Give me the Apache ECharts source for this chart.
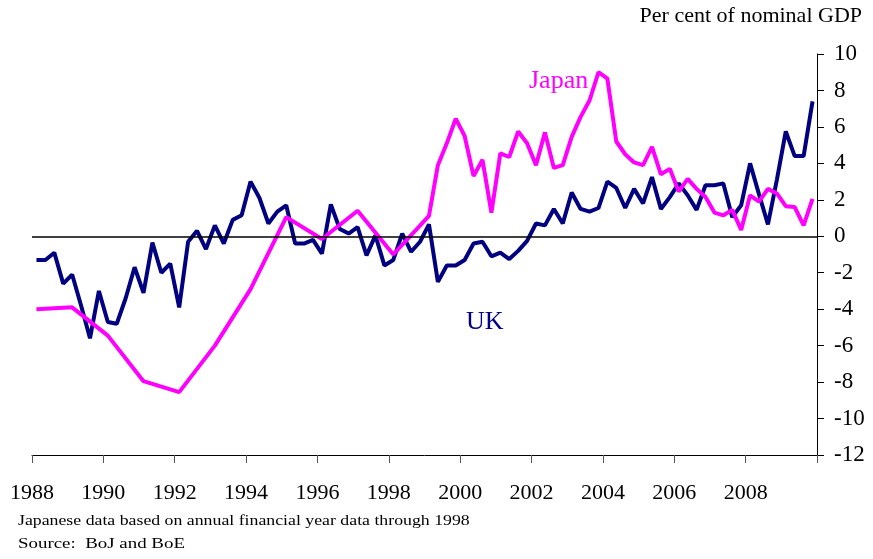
<!DOCTYPE html>
<html>
<head>
<meta charset="utf-8">
<script src="https://cdn.jsdelivr.net/npm/echarts@6/dist/echarts.min.js"></script>
<style>
  html, body { margin: 0; padding: 0; background: #fff; }
  #chart { width: 873px; height: 559px; }
</style>
</head>
<body>
<div id="chart"></div>
<script>
// UK quarterly, 1988Q1 - 2009Q4 (per cent of nominal GDP)
var ukStartYear = 1988
var ukValues = [
  -1.3, -1.3, -0.9, -2.6, -2.1, -3.8, -5.6, -3.0, -4.7, -4.8, -3.4, -1.7,
  -3.1, -0.35, -2.0, -1.5, -3.9, -0.3, 0.3, -0.7, 0.6, -0.4, 0.9, 1.15,
  3.0, 2.1, 0.7, 1.35, 1.7, -0.4, -0.4, -0.2, -0.95, 1.75, 0.4, 0.15,
  0.5, -1.05, 0.05, -1.6, -1.3, 0.15, -0.85, -0.3, 0.65, -2.5, -1.6, -1.6,
  -1.3, -0.4, -0.3, -1.1, -0.9, -1.25, -0.8, -0.25, 0.7, 0.6, 1.5, 0.7,
  2.4, 1.5, 1.35, 1.55, 3.0, 2.65, 1.55, 2.6, 1.8, 3.25, 1.5, 2.15,
  2.9, 2.25, 1.45, 2.8, 2.8, 2.9, 1.05, 1.7, 4.0, 2.3, 0.65, 3.1,
  5.75, 4.4, 4.4, 7.4
]

// Japan: annual (financial year) 1988 - 1998
var japanAnnualYears = [1988, 1989, 1990, 1991, 1992, 1993, 1994, 1995, 1996, 1997, 1998]
var japanAnnualValues = [-4.0, -3.9, -5.45, -7.95, -8.55, -6.0, -2.9, 1.05, -0.15, 1.4, -1.0]

// Japan: quarterly 1999Q1 - 2009Q4
var japanQuarterStartYear = 1999
var japanQuarterValues = [
  1.12, 3.9, 5.1, 6.45, 5.5, 3.3, 4.2, 1.3, 4.55, 4.35, 5.75, 5.1,
  3.9, 5.7, 3.75, 3.9, 5.45, 6.55, 7.45, 9.0, 8.65, 5.2, 4.5, 4.05,
  3.9, 4.9, 3.4, 3.7, 2.45, 3.15, 2.6, 2.15, 1.3, 1.15, 1.45, 0.35,
  2.25, 1.9, 2.6, 2.35, 1.65, 1.6, 0.6, 2.05
]

var yearTicks = [1988, 1990, 1992, 1994, 1996, 1998, 2000, 2002, 2004, 2006, 2008]

// quarters are plotted mid-quarter
function quarterTime(startYear, i) {
  return startYear + Math.floor(i / 4) + ((i % 4) + 0.5) / 4
}

var ukData = ukValues.map(function (v, i) {
  return [quarterTime(ukStartYear, i), v]
})
var japanData = japanAnnualYears.map(function (y, i) {
  return [y + 0.125, japanAnnualValues[i]]
}).concat(japanQuarterValues.map(function (v, i) {
  return [quarterTime(japanQuarterStartYear, i), v]
}))

var serif = '"Liberation Serif", "Times New Roman", serif'
var chart = echarts.init(document.getElementById('chart'))

var option = {
  animation: false,
  backgroundColor: '#fff',
  grid: {
    left: 32,
    right: 56,
    top: 54,
    bottom: 104,
  },
  xAxis: {
    type: 'value',
    min: 1988,
    max: 2010,
    interval: 2,
    axisLine: { show: true, onZero: false, lineStyle: { color: '#000', width: 1 } },
    axisTick: { show: true, length: 8, lineStyle: { color: '#555' } },
    splitLine: { show: false },
    axisLabel: {
      color: '#000',
      fontFamily: serif,
      fontSize: 22,
      margin: 27,
      formatter: function (v) {
        return yearTicks.indexOf(v) >= 0 ? String(v) : ''
      },
    },
  },
  yAxis: {
    type: 'value',
    position: 'right',
    min: -12,
    max: 10,
    interval: 2,
    axisLine: { show: true, lineStyle: { color: '#000', width: 1 } },
    axisTick: { show: true, length: 7, lineStyle: { color: '#000' } },
    splitLine: { show: false },
    axisLabel: {
      color: '#000',
      fontFamily: serif,
      fontSize: 23,
      margin: 17,
    },
  },
  series: [
    {
      name: 'UK',
      type: 'line',
      data: ukData,
      symbol: 'none',
      lineStyle: { color: '#000080', width: 4 },
      markLine: {
        silent: true,
        symbol: 'none',
        label: { show: false },
        lineStyle: { color: '#000', width: 1.5, type: 'solid' },
        data: [{ yAxis: 0 }],
      },
    },
    {
      name: 'Japan',
      type: 'line',
      data: japanData,
      symbol: 'none',
      lineStyle: { color: '#ff00ff', width: 4 },
    },
  ],
  graphic: [
    {
      type: 'text',
      right: 11,
      top: 5,
      style: { text: 'Per cent of nominal GDP', font: '22px ' + serif, fill: '#000' },
    },
    {
      type: 'text',
      left: 529,
      top: 68,
      style: { text: 'Japan', font: '26px ' + serif, fill: '#ff00ff' },
    },
    {
      type: 'text',
      left: 466,
      top: 309,
      style: { text: 'UK', font: '26px ' + serif, fill: '#000080' },
    },
    {
      type: 'text',
      x: 18,
      y: 514,
      scaleX: 1.27,
      style: { text: 'Japanese data based on annual financial year data through 1998', font: '14px ' + serif, fill: '#000' },
    },
    {
      type: 'text',
      x: 18,
      y: 537,
      scaleX: 1.35,
      style: { text: 'Source:  BoJ and BoE', font: '14px ' + serif, fill: '#000' },
    },
  ],
}

chart.setOption(option)
</script>
</body>
</html>
